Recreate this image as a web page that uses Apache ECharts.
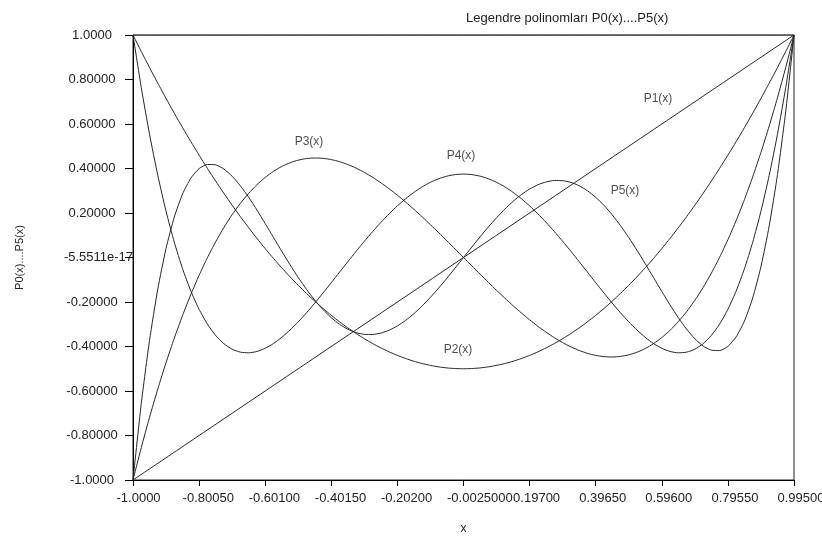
<!DOCTYPE html>
<html>
<head>
<meta charset="utf-8">
<script src="https://cdn.jsdelivr.net/npm/echarts@6/dist/echarts.min.js"></script>
<style>
html,body{margin:0;padding:0;background:#fff;}
#chart{width:822px;height:537px;}
</style>
</head>
<body>
<div id="chart"></div>
<script>
const titleText = 'Legendre polinomları P0(x)....P5(x)';
const xAxisName = 'x';
const yAxisName = 'P0(x)....P5(x)';
const xTickLabels = ['-1.0000','-0.80050','-0.60100','-0.40150','-0.20200','-0.0025000','0.19700','0.39650','0.59600','0.79550','0.99500'];
const yTickLabels = ['-1.0000','-0.80000','-0.60000','-0.40000','-0.20000','-5.5511e-17','0.20000','0.40000','0.60000','0.80000','1.0000'];

const xs = [-1,-0.975,-0.95,-0.925,-0.9,-0.875,-0.85,-0.825,-0.8,-0.775,-0.75,-0.725,-0.7,-0.675,-0.65,-0.625,-0.6,-0.575,-0.55,-0.525,
  -0.5,-0.475,-0.45,-0.425,-0.4,-0.375,-0.35,-0.325,-0.3,-0.275,-0.25,-0.225,-0.2,-0.175,-0.15,-0.125,-0.1,-0.075,-0.05,-0.025,
  0,
  0.025,0.05,0.075,0.1,0.125,0.15,0.175,0.2,0.225,0.25,0.275,0.3,0.325,0.35,0.375,0.4,0.425,0.45,0.475,0.5,
  0.525,0.55,0.575,0.6,0.625,0.65,0.675,0.7,0.725,0.75,0.775,0.8,0.825,0.85,0.875,0.9,0.925,0.95,0.975,1];

const p0X = [-1, 1];
const p0Y = [1, 1];
const p1X = [-1, 1];
const p1Y = [-1, 1];
const p2 = [1,0.9259,0.8538,0.7834,0.715,0.6484,0.5838,0.5209,0.46,0.4009,0.3438,0.2884,0.235,0.1834,0.1338,0.0859,0.04,-0.0041,-0.0463,-0.0866,
  -0.125,-0.1616,-0.1963,-0.2291,-0.26,-0.2891,-0.3163,-0.3416,-0.365,-0.3866,-0.4063,-0.4241,-0.44,-0.4541,-0.4663,-0.4766,-0.485,-0.4916,-0.4963,-0.4991,
  -0.5,
  -0.4991,-0.4963,-0.4916,-0.485,-0.4766,-0.4663,-0.4541,-0.44,-0.4241,-0.4063,-0.3866,-0.365,-0.3416,-0.3163,-0.2891,-0.26,-0.2291,-0.1963,-0.1616,-0.125,
  -0.0866,-0.0463,-0.0041,0.04,0.0859,0.1338,0.1834,0.235,0.2884,0.3438,0.4009,0.46,0.5209,0.5838,0.6484,0.715,0.7834,0.8538,0.9259,1];
const p3 = [-1,-0.8546,-0.7184,-0.5911,-0.4725,-0.3623,-0.2603,-0.1663,-0.08,-0.0012,0.0703,0.1348,0.1925,0.2436,0.2884,0.3271,0.36,0.3872,0.4091,0.4257,
  0.4375,0.4446,0.4472,0.4456,0.44,0.4307,0.4178,0.4017,0.3825,0.3605,0.3359,0.309,0.28,0.2491,0.2166,0.1826,0.1475,0.1115,0.0747,0.0375,
  0,
  -0.0375,-0.0747,-0.1115,-0.1475,-0.1826,-0.2166,-0.2491,-0.28,-0.309,-0.3359,-0.3605,-0.3825,-0.4017,-0.4178,-0.4307,-0.44,-0.4456,-0.4472,-0.4446,-0.4375,
  -0.4257,-0.4091,-0.3872,-0.36,-0.3271,-0.2884,-0.2436,-0.1925,-0.1348,-0.0703,0.0012,0.08,0.1663,0.2603,0.3623,0.4725,0.5911,0.7184,0.8546,1];
const p4 = [1,0.7638,0.5541,0.3693,0.2079,0.0685,-0.0506,-0.1506,-0.233,-0.2991,-0.3501,-0.3874,-0.4121,-0.4254,-0.4284,-0.4223,-0.408,-0.3866,-0.359,-0.3262,
  -0.2891,-0.2484,-0.205,-0.1596,-0.113,-0.0658,-0.0187,0.0277,0.0729,0.1164,0.1577,0.1964,0.232,0.2643,0.2928,0.3175,0.3379,0.354,0.3657,0.3727,
  0.375,
  0.3727,0.3657,0.354,0.3379,0.3175,0.2928,0.2643,0.232,0.1964,0.1577,0.1164,0.0729,0.0277,-0.0187,-0.0658,-0.113,-0.1596,-0.205,-0.2484,-0.2891,
  -0.3262,-0.359,-0.3866,-0.408,-0.4223,-0.4284,-0.4254,-0.4121,-0.3874,-0.3501,-0.2991,-0.233,-0.1506,-0.0506,0.0685,0.2079,0.3693,0.5541,0.7638,1];
const p5 = [-1,-0.6567,-0.3727,-0.142,0.0411,0.182,0.2857,0.3567,0.3995,0.4182,0.4164,0.3977,0.3652,0.3219,0.2705,0.2133,0.1526,0.0904,0.0282,-0.0323,
  -0.0898,-0.1433,-0.1917,-0.2344,-0.2706,-0.3001,-0.3225,-0.3376,-0.3454,-0.346,-0.3397,-0.3268,-0.3075,-0.2825,-0.2523,-0.2175,-0.1788,-0.137,-0.0927,-0.0467,
  0,
  0.0467,0.0927,0.137,0.1788,0.2175,0.2523,0.2825,0.3075,0.3268,0.3397,0.346,0.3454,0.3376,0.3225,0.3001,0.2706,0.2344,0.1917,0.1433,0.0898,
  0.0323,-0.0282,-0.0904,-0.1526,-0.2133,-0.2705,-0.3219,-0.3652,-0.3977,-0.4164,-0.4182,-0.3995,-0.3567,-0.2857,-0.182,-0.0411,0.142,0.3727,0.6567,1];

const curveLabelNames = ['P1(x)','P2(x)','P3(x)','P4(x)','P5(x)'];
const curveLabelX = [0.5885,-0.0166,-0.4675,-0.0076,0.4887];
const curveLabelY = [0.7117,-0.4144,0.5225,0.4595,0.3018];

const pair = (a, b) => a.map((v, i) => [v, b[i]]);
const lineColor = '#262626';
const textColor = '#222';
const FONT = 'Liberation Sans, Arial, sans-serif';

function lineSeries(name, data) {
  return {
    name: name, type: 'line', data: data, showSymbol: false, smooth: 0.2,
    lineStyle: {color: lineColor, width: 1}, silent: true, z: 3
  };
}

const chart = echarts.init(document.getElementById('chart'), null, {renderer: 'canvas'});
chart.setOption({
  animation: false,
  backgroundColor: '#fff',
  title: {
    text: titleText, left: 461, top: 7,
    textStyle: {fontFamily: FONT, fontSize: 13, fontWeight: 'normal', color: textColor}
  },
  grid: {left: 133, right: 28, top: 35, bottom: 57, outerBoundsMode: 'none', containLabel: false,
    show: true, borderColor: '#222', borderWidth: 1, backgroundColor: 'transparent'},
  xAxis: {
    type: 'value', min: -1, max: 1, interval: 0.2,
    name: xAxisName, nameLocation: 'middle', nameGap: 43,
    nameTextStyle: {fontFamily: FONT, fontSize: 12, color: textColor},
    axisLine: {onZero: false, lineStyle: {color: '#000', width: 1}},
    axisTick: {show: true, length: 6, lineStyle: {color: '#000'}},
    splitLine: {show: false},
    axisLabel: {
      margin: 12, align: 'center', fontFamily: FONT, fontSize: 13, color: textColor,
      showMinLabel: true, showMaxLabel: true, hideOverlap: false,
      formatter: v => '{a|' + xTickLabels[Math.round((v + 1) / 0.2)] + '}',
      rich: {a: {width: 33, align: 'left', fontFamily: FONT, fontSize: 13, color: textColor}}
    }
  },
  yAxis: {
    type: 'value', min: -1, max: 1, interval: 0.2,
    name: yAxisName, nameLocation: 'middle', nameGap: 108, nameRotate: 90,
    nameTextStyle: {fontFamily: FONT, fontSize: 11, color: textColor},
    axisLine: {show: true, onZero: false, lineStyle: {color: '#000', width: 1}},
    axisTick: {show: true, length: 8, lineStyle: {color: '#000'}},
    splitLine: {show: false},
    axisLabel: {
      margin: 41, align: 'center', fontFamily: FONT, fontSize: 13, color: textColor,
      showMinLabel: true, showMaxLabel: true, hideOverlap: false,
      formatter: v => {
        const i = Math.round((v + 1) / 0.2);
        return i === 5 ? '{z|' + yTickLabels[i] + '}' : yTickLabels[i];
      },
      rich: {z: {fontFamily: FONT, fontSize: 13, color: textColor, padding: [0, 0, 0, 13]}}
    }
  },
  series: [
    lineSeries('P0', pair(p0X, p0Y)),
    lineSeries('P1', pair(p1X, p1Y)),
    lineSeries('P2', pair(xs, p2)),
    lineSeries('P3', pair(xs, p3)),
    lineSeries('P4', pair(xs, p4)),
    lineSeries('P5', pair(xs, p5)),
    {
      type: 'scatter', symbolSize: 0, silent: true, z: 5,
      data: curveLabelNames.map((n, i) => ({name: n, value: [curveLabelX[i], curveLabelY[i]]})),
      label: {show: true, position: 'inside', formatter: p => p.name,
        fontFamily: FONT, fontSize: 12, color: textColor}
    }
  ]
});
</script>
</body>
</html>
